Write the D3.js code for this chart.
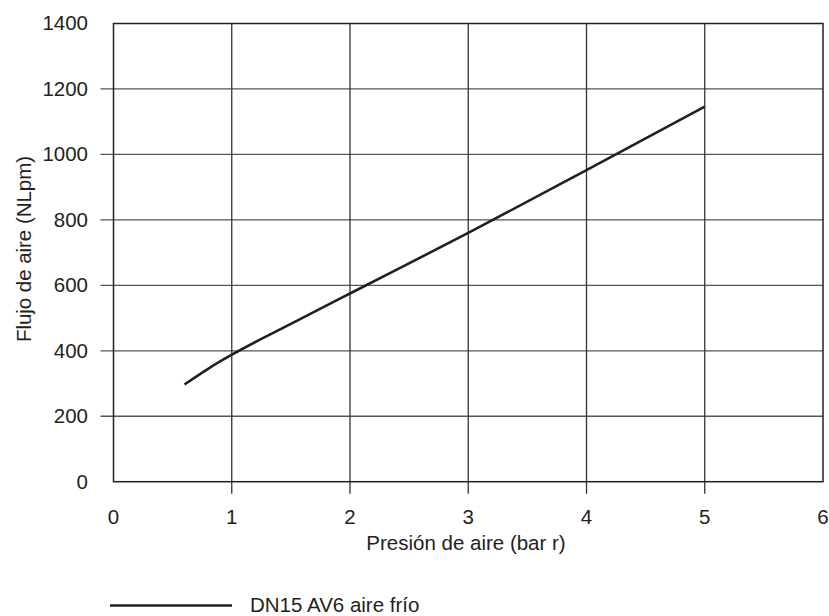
<!DOCTYPE html>
<html>
<head>
<meta charset="utf-8">
<title>Flujo de aire</title>
<script src="https://d3js.org/d3.v7.min.js"></script>
<style>
  body { margin: 0; background: #fff; }
  text { font-family: "Liberation Sans", Arial, sans-serif; fill: #231f20; }
</style>
</head>
<body>
<div id="chart"></div>
<script>
// Data
const pressure = [0.6, 0.8, 1.0, 1.5, 2, 3, 4, 5];
const flow     = [297, 345, 388, 482, 575, 760, 952, 1146];
const xTicks = [0, 1, 2, 3, 4, 5, 6];
const yTicks = [0, 200, 400, 600, 800, 1000, 1200, 1400];
const seriesName = "DN15 AV6 aire frío";

const width = 829, height = 616;
const plotLeft = 113.5, plotRight = 823, plotTop = 23.5, plotBottom = 481.7;
const fontSize = 20.5;

const svg = d3.select("#chart").append("svg")
  .attr("width", width).attr("height", height);

const x = d3.scaleLinear().domain([0, 6]).range([plotLeft, plotRight]);
const y = d3.scaleLinear().domain([0, 1400]).range([plotBottom, plotTop]);

// Horizontal grid lines (with tick stubs to the left)
svg.append("g").selectAll("line")
  .data(yTicks.filter(d => d > 0 && d < 1400))
  .enter().append("line")
  .attr("x1", plotLeft - 13).attr("x2", plotRight)
  .attr("y1", d => y(d)).attr("y2", d => y(d))
  .attr("stroke", "#555").attr("stroke-width", 1.3);

// Vertical grid lines (with tick stubs below)
svg.append("g").selectAll("line")
  .data(xTicks.filter(d => d > 0 && d < 6))
  .enter().append("line")
  .attr("x1", d => x(d)).attr("x2", d => x(d))
  .attr("y1", plotTop).attr("y2", plotBottom + 12)
  .attr("stroke", "#333").attr("stroke-width", 1.3);

// Frame
svg.append("rect")
  .attr("x", plotLeft).attr("y", plotTop)
  .attr("width", plotRight - plotLeft).attr("height", plotBottom - plotTop)
  .attr("fill", "none").attr("stroke", "#231f20").attr("stroke-width", 1.5);

// Tick labels
svg.append("g").selectAll("text")
  .data(yTicks).enter().append("text")
  .attr("x", 88).attr("y", d => y(d) + 6.8)
  .attr("text-anchor", "end").attr("font-size", fontSize)
  .text(d => d);

svg.append("g").selectAll("text")
  .data(xTicks).enter().append("text")
  .attr("x", d => x(d)).attr("y", 523.5)
  .attr("text-anchor", "middle").attr("font-size", fontSize)
  .text(d => d);

// Axis titles
svg.append("text")
  .attr("x", 466).attr("y", 550)
  .attr("text-anchor", "middle").attr("font-size", fontSize)
  .text("Presión de aire (bar r)");

svg.append("text")
  .attr("transform", "translate(31,249) rotate(-90)")
  .attr("text-anchor", "middle").attr("font-size", fontSize)
  .attr("textLength", 186).attr("lengthAdjust", "spacing")
  .text("Flujo de aire (NLpm)");

// Series line
const line = d3.line()
  .x((d, i) => x(pressure[i]))
  .y(d => y(d))
  .curve(d3.curveMonotoneX);

svg.append("path")
  .datum(flow)
  .attr("d", line)
  .attr("fill", "none")
  .attr("stroke", "#231f20")
  .attr("stroke-width", 2.6);

// Legend
svg.append("line")
  .attr("x1", 110).attr("x2", 232)
  .attr("y1", 605.5).attr("y2", 605.5)
  .attr("stroke", "#231f20").attr("stroke-width", 2.6);
svg.append("text")
  .attr("x", 250).attr("y", 611.5)
  .attr("font-size", fontSize)
  .text(seriesName);
</script>
</body>
</html>
